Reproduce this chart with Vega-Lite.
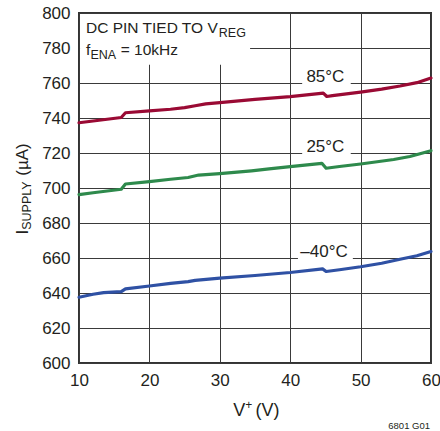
{
  "$schema": "https://vega.github.io/schema/vega-lite/v6.json",
  "width": 352,
  "height": 350,
  "autosize": {"type": "none"},
  "padding": {"left": 79, "top": 13, "right": 9, "bottom": 68},
  "background": "white",
  "config": {
    "font": "Liberation Sans",
    "view": {"stroke": "#333333", "strokeWidth": 2},
    "axis": {
      "grid": true,
      "gridColor": "#3a3a3a",
      "gridWidth": 1,
      "domain": false,
      "ticks": false,
      "labelFont": "Liberation Sans",
      "labelFontSize": 17,
      "labelColor": "#231f20",
      "labelFlush": false,
      "labelOverlap": false,
      "labelBound": false
    },
    "axisX": {"labelPadding": 9},
    "axisY": {"labelPadding": 9}
  },
  "layer": [
    {
      "data": {
        "values": [
          {"t": "85°C", "v": 10, "i": 737.3},
          {"t": "85°C", "v": 12, "i": 738.3},
          {"t": "85°C", "v": 14, "i": 739.3},
          {"t": "85°C", "v": 16, "i": 740.3},
          {"t": "85°C", "v": 16.6, "i": 743.0},
          {"t": "85°C", "v": 20, "i": 744.1},
          {"t": "85°C", "v": 23, "i": 745.0},
          {"t": "85°C", "v": 25, "i": 745.9},
          {"t": "85°C", "v": 26.5, "i": 747.0},
          {"t": "85°C", "v": 28, "i": 748.1},
          {"t": "85°C", "v": 30, "i": 748.8},
          {"t": "85°C", "v": 35, "i": 750.6},
          {"t": "85°C", "v": 40, "i": 752.2},
          {"t": "85°C", "v": 44.7, "i": 754.2},
          {"t": "85°C", "v": 45.2, "i": 752.3},
          {"t": "85°C", "v": 46, "i": 752.8},
          {"t": "85°C", "v": 50, "i": 754.8},
          {"t": "85°C", "v": 53, "i": 756.5},
          {"t": "85°C", "v": 55.6, "i": 758.3},
          {"t": "85°C", "v": 58, "i": 760.2},
          {"t": "85°C", "v": 60, "i": 762.8},
          {"t": "25°C", "v": 10, "i": 696.2},
          {"t": "25°C", "v": 12, "i": 697.3},
          {"t": "25°C", "v": 14, "i": 698.3},
          {"t": "25°C", "v": 16, "i": 699.3},
          {"t": "25°C", "v": 16.6, "i": 702.3},
          {"t": "25°C", "v": 20, "i": 703.6},
          {"t": "25°C", "v": 23, "i": 705.0},
          {"t": "25°C", "v": 25.5, "i": 706.0},
          {"t": "25°C", "v": 27, "i": 707.4},
          {"t": "25°C", "v": 30, "i": 708.2},
          {"t": "25°C", "v": 34.5, "i": 709.8},
          {"t": "25°C", "v": 37, "i": 710.9},
          {"t": "25°C", "v": 40, "i": 712.2},
          {"t": "25°C", "v": 44.5, "i": 714.1},
          {"t": "25°C", "v": 45.1, "i": 711.3},
          {"t": "25°C", "v": 47, "i": 712.3},
          {"t": "25°C", "v": 50, "i": 713.7},
          {"t": "25°C", "v": 54.7, "i": 716.3},
          {"t": "25°C", "v": 57, "i": 718.0},
          {"t": "25°C", "v": 60, "i": 721.3},
          {"t": "–40°C", "v": 10, "i": 637.6},
          {"t": "–40°C", "v": 12, "i": 639.3},
          {"t": "–40°C", "v": 13.5, "i": 640.2},
          {"t": "–40°C", "v": 16, "i": 640.8},
          {"t": "–40°C", "v": 16.6, "i": 642.4},
          {"t": "–40°C", "v": 20, "i": 644.0},
          {"t": "–40°C", "v": 23, "i": 645.5},
          {"t": "–40°C", "v": 25.5, "i": 646.5},
          {"t": "–40°C", "v": 26.5, "i": 647.2},
          {"t": "–40°C", "v": 30, "i": 648.5},
          {"t": "–40°C", "v": 35, "i": 650.0},
          {"t": "–40°C", "v": 40, "i": 651.7},
          {"t": "–40°C", "v": 44.6, "i": 653.8},
          {"t": "–40°C", "v": 45.1, "i": 652.3},
          {"t": "–40°C", "v": 47, "i": 653.3},
          {"t": "–40°C", "v": 50, "i": 655.0},
          {"t": "–40°C", "v": 53, "i": 657.0},
          {"t": "–40°C", "v": 55.6, "i": 659.3},
          {"t": "–40°C", "v": 58, "i": 661.3},
          {"t": "–40°C", "v": 60, "i": 663.7}
        ]
      },
      "mark": {"type": "line", "strokeWidth": 3.2, "strokeCap": "round", "strokeJoin": "round"},
      "encoding": {
        "x": {"field": "v", "type": "quantitative", "title": null,
              "scale": {"domain": [10, 60], "nice": false},
              "axis": {"values": [10, 20, 30, 40, 50, 60], "tickCount": 12, "title": null}},
        "y": {"field": "i", "type": "quantitative", "title": null,
              "scale": {"domain": [600, 800], "nice": false, "zero": false},
              "axis": {"values": [600, 620, 640, 660, 680, 700, 720, 740, 760, 780, 800], "tickCount": 20, "title": null}},
        "color": {"field": "t", "type": "nominal", "legend": null,
                  "scale": {"domain": ["85°C", "25°C", "–40°C"], "range": ["#9a0a34", "#2e8a4c", "#2f51a4"]}},
        "order": {"field": "v", "type": "quantitative"}
      }
    },
    {
      "data": {"values": [{}]},
      "mark": {"type": "rect", "fill": "white", "stroke": null},
      "encoding": {
        "x": {"datum": 10.15, "title": null},
        "x2": {"datum": 34.3},
        "y": {"datum": 770.5, "title": null},
        "y2": {"datum": 799.4}
      }
    },
    {
      "data": {"values": [{}]},
      "mark": {"type": "rect", "fill": "white", "stroke": null},
      "encoding": {
        "x": {"datum": 41.7, "title": null},
        "x2": {"datum": 48.6},
        "y": {"datum": 757, "title": null},
        "y2": {"datum": 765}
      }
    },
    {
      "data": {"values": [{}]},
      "mark": {"type": "rect", "fill": "white", "stroke": null},
      "encoding": {
        "x": {"datum": 41.7, "title": null},
        "x2": {"datum": 48.6},
        "y": {"datum": 717, "title": null},
        "y2": {"datum": 725}
      }
    },
    {
      "data": {"values": [{}]},
      "mark": {"type": "rect", "fill": "white", "stroke": null},
      "encoding": {
        "x": {"datum": 41.1, "title": null},
        "x2": {"datum": 48.9},
        "y": {"datum": 657, "title": null},
        "y2": {"datum": 665}
      }
    },
    {
      "data": {"values": [{}]},
      "mark": {"type": "text", "text": "DC PIN TIED TO V", "fontSize": 15.5, "align": "left", "baseline": "alphabetic", "color": "#231f20"},
      "encoding": {"x": {"datum": 10.99, "title": null}, "y": {"datum": 788.4, "title": null}}
    },
    {
      "data": {"values": [{}]},
      "mark": {"type": "text", "text": "REG", "fontSize": 12.5, "align": "left", "baseline": "alphabetic", "color": "#231f20"},
      "encoding": {"x": {"datum": 29.86, "title": null}, "y": {"datum": 786.4, "title": null}}
    },
    {
      "data": {"values": [{}]},
      "mark": {"type": "text", "text": "f", "fontSize": 15.5, "align": "left", "baseline": "alphabetic", "color": "#231f20"},
      "encoding": {"x": {"datum": 10.99, "title": null}, "y": {"datum": 776, "title": null}}
    },
    {
      "data": {"values": [{}]},
      "mark": {"type": "text", "text": "ENA", "fontSize": 12.5, "align": "left", "baseline": "alphabetic", "color": "#231f20"},
      "encoding": {"x": {"datum": 11.62, "title": null}, "y": {"datum": 773.5, "title": null}}
    },
    {
      "data": {"values": [{}]},
      "mark": {"type": "text", "text": "= 10kHz", "fontSize": 15.5, "align": "left", "baseline": "alphabetic", "color": "#231f20"},
      "encoding": {"x": {"datum": 15.92, "title": null}, "y": {"datum": 776, "title": null}}
    },
    {
      "data": {"values": [{}]},
      "mark": {"type": "text", "text": "85°C", "fontSize": 17, "align": "center", "baseline": "alphabetic", "color": "#231f20"},
      "encoding": {"x": {"datum": 45.0, "title": null}, "y": {"datum": 760.8, "title": null}}
    },
    {
      "data": {"values": [{}]},
      "mark": {"type": "text", "text": "25°C", "fontSize": 17, "align": "center", "baseline": "alphabetic", "color": "#231f20"},
      "encoding": {"x": {"datum": 45.0, "title": null}, "y": {"datum": 720.8, "title": null}}
    },
    {
      "data": {"values": [{}]},
      "mark": {"type": "text", "text": "–40°C", "fontSize": 17, "align": "center", "baseline": "alphabetic", "color": "#231f20"},
      "encoding": {"x": {"datum": 44.8, "title": null}, "y": {"datum": 660.8, "title": null}}
    },
    {
      "data": {"values": [{}]},
      "mark": {"type": "text", "text": "I", "fontSize": 17, "angle": 270, "align": "left", "baseline": "alphabetic", "color": "#231f20"},
      "encoding": {"x": {"datum": 2.756, "title": null}, "y": {"datum": 673.4, "title": null}}
    },
    {
      "data": {"values": [{}]},
      "mark": {"type": "text", "text": "SUPPLY", "fontSize": 12.5, "angle": 270, "align": "left", "baseline": "alphabetic", "color": "#231f20"},
      "encoding": {"x": {"datum": 3.15, "title": null}, "y": {"datum": 676.1, "title": null}}
    },
    {
      "data": {"values": [{}]},
      "mark": {"type": "text", "text": "(µA)", "fontSize": 17, "angle": 270, "align": "left", "baseline": "alphabetic", "color": "#231f20"},
      "encoding": {"x": {"datum": 2.756, "title": null}, "y": {"datum": 707.0, "title": null}}
    },
    {
      "data": {"values": [{}]},
      "mark": {"type": "text", "text": "V", "fontSize": 18, "align": "left", "baseline": "alphabetic", "color": "#231f20"},
      "encoding": {"x": {"datum": 31.92, "title": null}, "y": {"datum": 569.9, "title": null}}
    },
    {
      "data": {"values": [{}]},
      "mark": {"type": "text", "text": "+", "fontSize": 12, "align": "left", "baseline": "alphabetic", "color": "#231f20"},
      "encoding": {"x": {"datum": 33.62, "title": null}, "y": {"datum": 574.0, "title": null}}
    },
    {
      "data": {"values": [{}]},
      "mark": {"type": "text", "text": "(V)", "fontSize": 18, "align": "left", "baseline": "alphabetic", "color": "#231f20"},
      "encoding": {"x": {"datum": 35.07, "title": null}, "y": {"datum": 569.9, "title": null}}
    },
    {
      "data": {"values": [{}]},
      "mark": {"type": "text", "text": "6801 G01", "fontSize": 9.5, "align": "right", "baseline": "alphabetic", "color": "#231f20"},
      "encoding": {"x": {"datum": 59.86, "title": null}, "y": {"datum": 562.1, "title": null}}
    }
  ]
}
